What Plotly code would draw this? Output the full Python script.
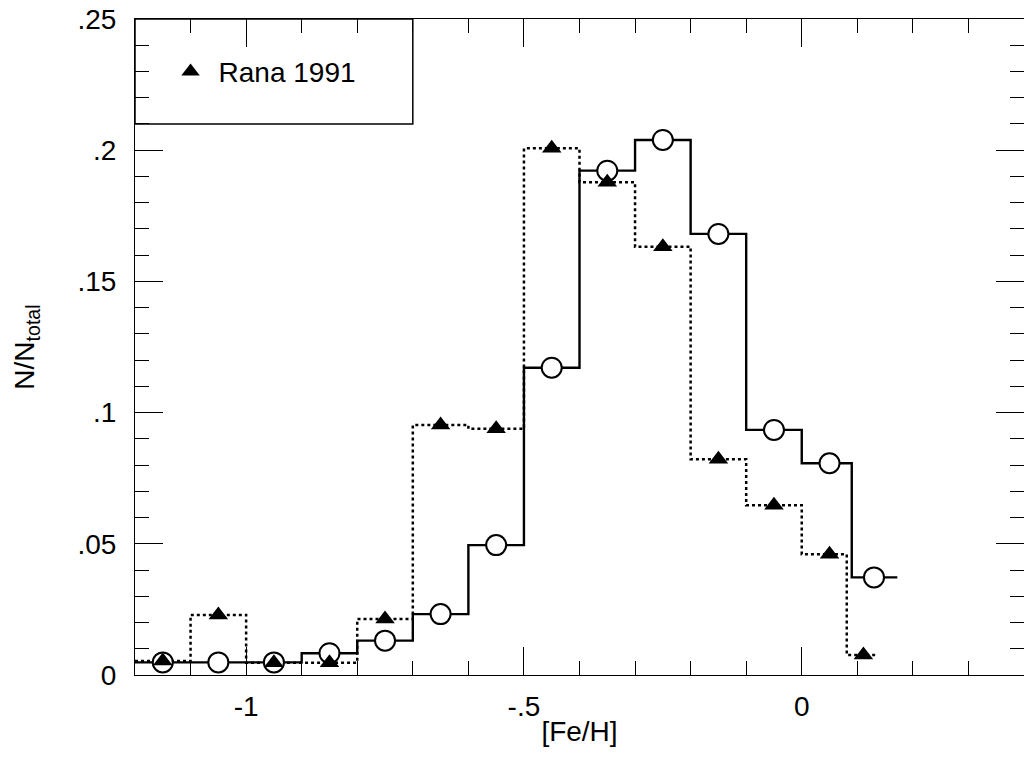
import plotly.graph_objects as go

# ---- data ----
solid_edges = [-1.2, -1.1, -1.0, -0.9, -0.8, -0.7, -0.6, -0.5, -0.4, -0.3, -0.2, -0.1, 0.0, 0.09, 0.172]
solid_centers = [-1.15, -1.05, -0.95, -0.85, -0.75, -0.65, -0.55, -0.45, -0.35, -0.25, -0.15, -0.05, 0.05, 0.13]
solid_values = [0.0048, 0.0048, 0.0048, 0.0083, 0.0131, 0.0232, 0.0495, 0.1171, 0.1922, 0.2039, 0.1681, 0.0934, 0.0807, 0.0372]

rana_edges = [-1.2, -1.1, -1.0, -0.9, -0.8, -0.7, -0.6, -0.5, -0.4, -0.3, -0.2, -0.1, 0.0, 0.081, 0.136]
rana_centers = [-1.15, -1.05, -0.95, -0.85, -0.75, -0.65, -0.55, -0.45, -0.35, -0.25, -0.15, -0.05, 0.05, 0.111]
rana_values = [0.0053, 0.0229, 0.0047, 0.0047, 0.0213, 0.0953, 0.0938, 0.2007, 0.1878, 0.1632, 0.0822, 0.0647, 0.046, 0.0076]

x_tickvals = [-1, -0.5, 0]
x_ticktext = ["-1", "-.5", "0"]
y_tickvals = [0, 0.05, 0.1, 0.15, 0.2, 0.25]
y_ticktext = ["0", ".05", ".1", ".15", ".2", ".25"]
legend_label = "Rana 1991"

FONT = "Liberation Sans, Arial, sans-serif"
FS = 28

fig = go.Figure()

# step outlines
fig.add_trace(go.Scatter(
    x=rana_edges, y=rana_values + [rana_values[-1]], mode="lines", line_shape="hv",
    line=dict(color="black", width=2.5, dash="dot"), showlegend=False, hoverinfo="skip"))
fig.add_trace(go.Scatter(
    x=solid_edges, y=solid_values + [solid_values[-1]], mode="lines", line_shape="hv",
    line=dict(color="black", width=2.4), showlegend=False, hoverinfo="skip"))

# markers
fig.add_trace(go.Scatter(
    x=solid_centers, y=solid_values, mode="markers",
    marker=dict(symbol="circle", size=20, color="white", line=dict(color="black", width=2)),
    showlegend=False))
fig.add_trace(go.Scatter(
    x=rana_centers, y=rana_values, mode="markers", name=legend_label,
    marker=dict(symbol="triangle-up", size=17, color="black", line=dict(width=0)),
    showlegend=True))

# legend frame
fig.add_shape(type="rect", xref="x", yref="y", x0=-1.2, x1=-0.7, y0=0.21, y1=0.25,
              line=dict(color="black", width=1.5), fillcolor="rgba(0,0,0,0)", layer="below")

axis_common = dict(
    showline=True, linecolor="black", linewidth=1, mirror="allticks",
    ticks="inside", ticklen=28, tickwidth=1, tickcolor="black",
    showgrid=False, zeroline=False,
    tickfont=dict(family=FONT, size=FS, color="black"),
)

fig.update_xaxes(
    range=[-1.2, 0.4], tickmode="array", tickvals=x_tickvals, ticktext=x_ticktext,
    minor=dict(ticks="inside", ticklen=14, tickwidth=1, tickcolor="black", tick0=0, dtick=0.1),
    title=dict(text="[Fe/H]", font=dict(family=FONT, size=FS, color="black"), standoff=0),
    ticklabelstandoff=6,
    **axis_common)
fig.update_yaxes(
    range=[0, 0.25], tickmode="array", tickvals=y_tickvals, ticktext=y_ticktext,
    minor=dict(ticks="inside", ticklen=14, tickwidth=1, tickcolor="black", tick0=0, dtick=0.01),
    title=dict(text="N/N<sub>total</sub>", font=dict(family=FONT, size=FS, color="black"), standoff=34),
    ticklabelstandoff=12,
    **axis_common)

fig.update_layout(
    width=1024, height=769,
    margin=dict(l=135, r=0, t=19, b=94),
    paper_bgcolor="white", plot_bgcolor="white",
    font=dict(family=FONT, size=FS, color="black"),
    legend=dict(x=0.031, y=0.9197, xanchor="left", yanchor="middle",
                bgcolor="rgba(0,0,0,0)", borderwidth=0, itemwidth=46,
                font=dict(family=FONT, size=FS, color="black")),
)

fig.write_html("out.html", config={"displayModeBar": False},
               post_script="document.body.style.margin='0';")
